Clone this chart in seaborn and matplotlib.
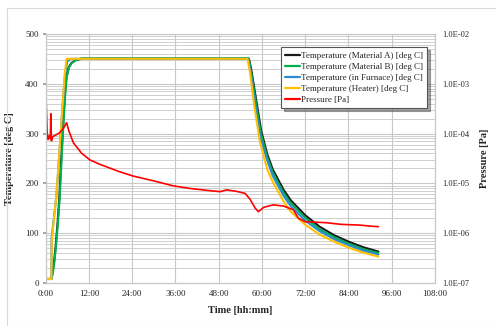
import matplotlib
matplotlib.use("Agg")
import numpy as np
import pandas as pd
import matplotlib.pyplot as plt
import matplotlib.patches as mpatches
from matplotlib.ticker import FixedLocator, FuncFormatter
import seaborn as sns

# ------------------------------------------------------------
# Data (time in hours)
# ------------------------------------------------------------
mat_a_time = [0, 1.6, 1.9, 2.3, 2.8, 3.3, 3.8, 4.4, 5.0, 5.5, 5.8, 6.4, 7.2, 8.5, 10, 30,
              56.4, 57.0, 58.3, 59.8, 61.5, 63, 66, 68, 72, 76, 80, 84, 88, 92.3]
mat_a_temp = [8, 8, 20, 40, 75, 120, 170, 260, 340, 395, 415, 433, 442, 448, 450, 450,
              450, 430, 372, 305, 258, 228, 187, 166, 136, 113, 96, 83, 72, 63]

mat_b_time = [0, 1.6, 2.0, 2.4, 2.9, 3.4, 3.9, 4.5, 5.1, 5.6, 5.9, 6.5, 7.3, 8.6, 10, 30,
              56.3, 56.9, 58.2, 59.7, 61.5, 63, 66, 68, 72, 76, 80, 84, 88, 92.3]
mat_b_temp = [8, 8, 20, 40, 75, 120, 170, 260, 340, 395, 415, 433, 442, 448, 451, 451,
              451, 428, 368, 300, 252, 222, 181, 160, 131, 108, 92, 79, 68, 60]

furnace_time = [0, 1.6, 1.65, 3.0, 4.6, 5.4, 6.0, 7.0, 30,
                56.2, 56.8, 58.0, 59.5, 61.5, 63, 66, 68, 72, 76, 80, 84, 88, 92.3]
furnace_temp = [8, 8, 90, 175, 345, 420, 445, 450, 450,
                450, 425, 362, 294, 245, 215, 175, 154, 125, 104, 88, 76, 65, 57]

heater_time = [0, 1.6, 1.7, 3.0, 4.6, 5.3, 5.8, 30,
               56.0, 56.7, 57.9, 59.4, 61.5, 63, 65.9, 68, 72, 76, 80, 84, 88, 92.3]
heater_temp = [8, 8, 86, 177, 347, 420, 450, 450,
               450, 422, 354, 285, 227, 203, 165, 143, 117, 97, 83, 71, 61, 53]

pressure_time = [0, 0.2, 0.4, 0.7, 1.0, 1.3, 1.45, 1.6, 2.0, 3.0, 4.0, 5.0, 5.8, 6.5, 7.7,
                 10, 12.3, 15.1, 20.6, 24.3, 30, 35.4, 40, 45, 48.4, 50.2, 53, 55.3, 56.7,
                 58.1, 59.0, 60.5, 63.1, 66, 68.7, 70.1, 71.9, 77.9, 82, 87.2, 90.4, 92.3]
pressure_pa = [1.1e-3, 3.2e-4, 1.1e-4, 7.6e-5, 8.9e-5, 7.9e-5, 2.5e-4, 7.1e-5, 8.7e-5,
               9.5e-5, 1.05e-4, 1.3e-4, 1.65e-4, 1.1e-4, 6.5e-5, 4.0e-5, 2.95e-5, 2.4e-5,
               1.7e-5, 1.4e-5, 1.12e-5, 8.9e-6, 7.9e-6, 7.2e-6, 6.8e-6, 7.4e-6, 6.9e-6,
               6.3e-6, 4.8e-6, 3.2e-6, 2.7e-6, 3.3e-6, 3.7e-6, 3.5e-6, 2.95e-6, 2.0e-6,
               1.7e-6, 1.62e-6, 1.5e-6, 1.45e-6, 1.38e-6, 1.35e-6]

x_ticks = [0, 12, 24, 36, 48, 60, 72, 84, 96, 108]
x_tick_labels = ["0:00", "12:00", "24:00", "36:00", "48:00", "60:00", "72:00",
                 "84:00", "96:00", "108:00"]

# ------------------------------------------------------------
# Plot
# ------------------------------------------------------------
sns.set_theme(style="white")
plt.rcParams["font.family"] = ["Liberation Serif", "DejaVu Serif"]

fig = plt.figure(figsize=(4.96, 3.26), dpi=100)
fig.patches.append(mpatches.Rectangle((7 / 496, 0), 1, 1 - 8 / 326, transform=fig.transFigure,
                                      fill=False, edgecolor="#d9d9d9", linewidth=0.8))
ax = fig.add_axes([0.092, 0.132, 0.785, 0.764])
ax2 = ax.twinx()

grid_color = "#c8c8c8"

temps = [
    ("Temperature (Material A) [deg C]", mat_a_time, mat_a_temp, "#1a1a1a"),
    ("Temperature (Material B) [deg C]", mat_b_time, mat_b_temp, "#00b050"),
    ("Temperature (in Furnace) [deg C]", furnace_time, furnace_temp, "#2e8bd0"),
    ("Temperature (Heater) [deg C]", heater_time, heater_temp, "#ffc000"),
]
handles = []
for label, t, v, c in temps:
    df = pd.DataFrame({"time": t, "value": v})
    sns.lineplot(data=df, x="time", y="value", ax=ax, color=c, linewidth=1.5, label=label,
                 legend=False)
    handles.append(plt.Line2D([], [], color=c, linewidth=1.6, label=label))

df_p = pd.DataFrame({"time": pressure_time, "pressure": pressure_pa})
sns.lineplot(data=df_p, x="time", y="pressure", ax=ax2, color="#ff0000", linewidth=1.2,
             legend=False)
handles.append(plt.Line2D([], [], color="#ff0000", linewidth=1.6, label="Pressure [Pa]"))

ax.set_xlim(0, 108)
ax.set_ylim(0, 500)
ax2.set_yscale("log")
ax2.set_ylim(1e-7, 1e-2)

ax.set_xticks(x_ticks)
ax.set_xticklabels(x_tick_labels)
ax.set_yticks([0, 100, 200, 300, 400, 500])

# log minor lines drawn on the temperature axis so they sit under the data
minor = [100 * n + 100 * np.log10(k) for n in range(5) for k in range(2, 10)]
ax.yaxis.set_minor_locator(FixedLocator(minor))
ax.grid(True, which="major", axis="both", color=grid_color, linewidth=0.8)
ax.grid(True, which="minor", axis="y", color=grid_color, linewidth=0.6)
ax2.grid(False)
ax2.minorticks_off()
ax2.yaxis.set_major_formatter(FuncFormatter(lambda v, p: "{:.1E}".format(v)))

for a in (ax, ax2):
    for s in a.spines.values():
        s.set_color(grid_color)
        s.set_linewidth(0.8)

ax.tick_params(axis="both", which="major", labelsize=6.5, length=2, color="#999999", pad=3)
ax.tick_params(axis="y", which="minor", length=0)
ax2.tick_params(axis="y", which="major", labelsize=6, length=0, pad=5)

ax.set_xlabel("Time [hh:mm]", fontsize=7.5, fontweight="bold", labelpad=6)
ax.set_ylabel("Temperature [deg C]", fontsize=7.5, fontweight="bold", labelpad=8)
ax2.set_ylabel("Pressure [Pa]", fontsize=7.5, fontweight="bold", labelpad=8)

leg = ax2.legend(handles=handles, loc="upper right", bbox_to_anchor=(0.98, 0.948),
                 fontsize=6.5, frameon=True, fancybox=False, shadow=True, framealpha=1,
                 handlelength=1.6, handletextpad=0.1, borderpad=0.5, labelspacing=0.3,
                 borderaxespad=0)
leg.get_frame().set_edgecolor("#555555")
leg.get_frame().set_linewidth(0.8)

fig.savefig("out.png", dpi=100)
